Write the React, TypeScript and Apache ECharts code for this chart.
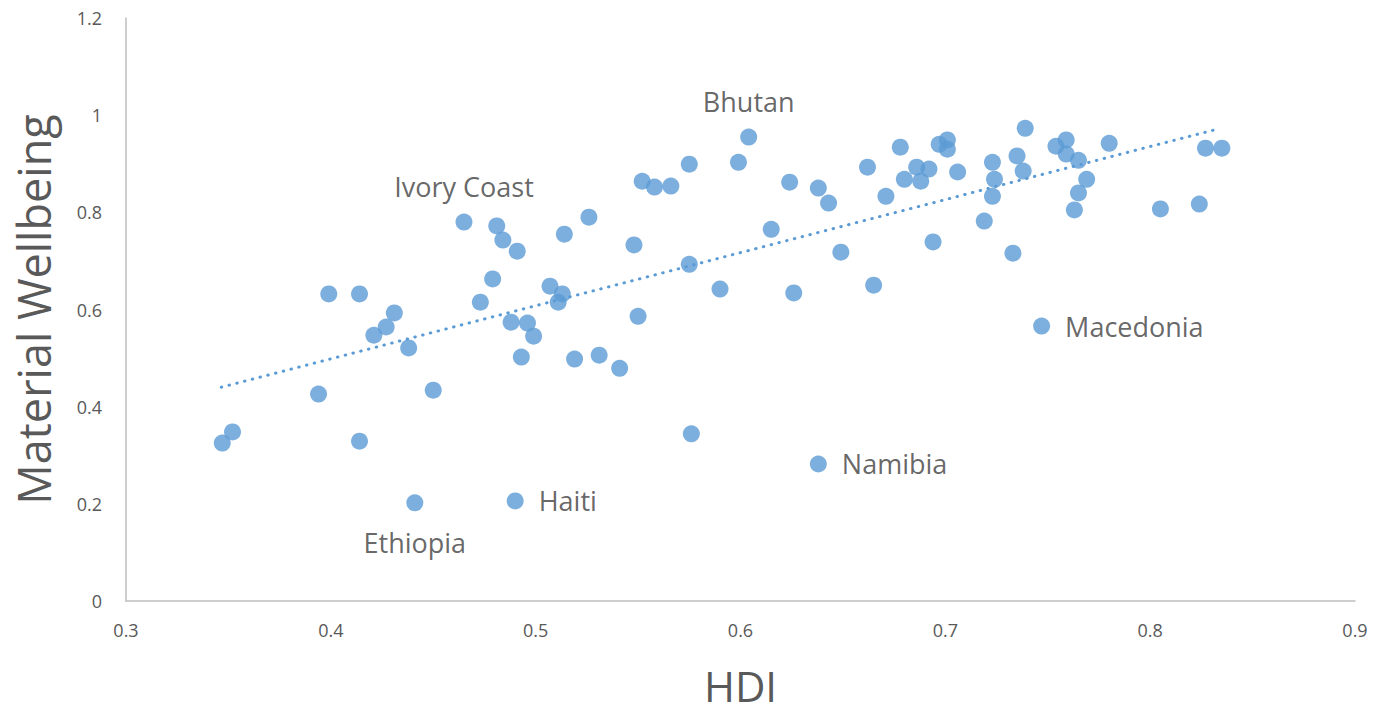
import React, { useEffect, useRef } from "react";
import * as echarts from "echarts";

const hdi = [
  0.347, 0.352, 0.394, 0.399, 0.414, 0.414, 0.421, 0.427, 0.431, 0.438,
  0.441, 0.45, 0.465, 0.473, 0.479, 0.481, 0.484, 0.488, 0.49, 0.491,
  0.493, 0.496, 0.499, 0.507, 0.511, 0.513, 0.514, 0.519, 0.526, 0.531,
  0.541, 0.548, 0.55, 0.552, 0.558, 0.566, 0.575, 0.575, 0.576, 0.59,
  0.599, 0.604, 0.615, 0.624, 0.626, 0.638, 0.638, 0.643, 0.649, 0.662,
  0.665, 0.671, 0.678, 0.68, 0.686, 0.688, 0.692, 0.694, 0.697, 0.701,
  0.701, 0.706, 0.719, 0.723, 0.723, 0.724, 0.733, 0.735, 0.738, 0.739,
  0.747, 0.754, 0.759, 0.759, 0.765, 0.763, 0.765, 0.769, 0.78, 0.805,
  0.824, 0.827, 0.835,
];

const wellbeing = [
  0.325, 0.348, 0.426, 0.632, 0.632, 0.329, 0.547, 0.564, 0.593, 0.521,
  0.202, 0.434, 0.78, 0.615, 0.663, 0.772, 0.743, 0.574, 0.206, 0.72,
  0.502, 0.572, 0.545, 0.648, 0.615, 0.632, 0.755, 0.498, 0.79, 0.506,
  0.479, 0.733, 0.586, 0.864, 0.852, 0.854, 0.693, 0.899, 0.344, 0.642,
  0.903, 0.955, 0.765, 0.862, 0.634, 0.85, 0.282, 0.819, 0.718, 0.893,
  0.65, 0.833, 0.934, 0.868, 0.893, 0.864, 0.889, 0.739, 0.94, 0.949,
  0.93, 0.883, 0.782, 0.903, 0.833, 0.868, 0.716, 0.916, 0.885, 0.973,
  0.566, 0.936, 0.949, 0.92, 0.907, 0.805, 0.84, 0.868, 0.942, 0.807,
  0.817, 0.932, 0.932,
];

const namedCountries = ["Ethiopia", "Ivory Coast", "Haiti", "Bhutan", "Namibia", "Macedonia"];
const namedIndex = [10, 12, 18, 41, 46, 70];

const trendX = [0.3465, 0.8325];
const trendY = [0.44, 0.971];

const xTicks = { min: 0.3, max: 0.9, interval: 0.1 };
const yTicks = { min: 0, max: 1.2, interval: 0.2 };

const labelPos: Record<string, string> = {
  Ethiopia: "bottom",
  "Ivory Coast": "top",
  Haiti: "right",
  Bhutan: "top",
  Namibia: "right",
  Macedonia: "right",
};
const labelDist: Record<string, number> = {
  Ethiopia: 16,
  "Ivory Coast": 12,
  Haiti: 15,
  Bhutan: 12,
  Namibia: 15,
  Macedonia: 15,
};

const FONT = "'Open Sans', 'Noto Sans', sans-serif";

export default function App() {
  const ref = useRef<HTMLDivElement>(null);
  useEffect(() => {
    if (!ref.current) return;
    const chart = echarts.init(ref.current, undefined, { renderer: "svg" });
    const points = hdi.map((x, i) => {
      const k = namedIndex.indexOf(i);
      const item: any = { value: [x, wellbeing[i]] };
      if (k >= 0) {
        const name = namedCountries[k];
        item.name = name;
        item.label = {
          show: true,
          formatter: name,
          position: labelPos[name],
          distance: labelDist[name],
          color: "#404040",
          fontSize: 27,
          lineHeight: 30,
          fontFamily: FONT,
        };
      }
      return item;
    });
    chart.setOption({
      animation: false,
      grid: { left: 126, right: 30, top: 18, bottom: 109, outerBoundsMode: "none", containLabel: false },
      xAxis: {
        type: "value",
        min: xTicks.min,
        max: xTicks.max,
        interval: xTicks.interval,
        name: "HDI",
        nameLocation: "middle",
        nameGap: 64,
        nameTextStyle: { fontSize: 42, lineHeight: 40, color: "#595959", fontFamily: FONT },
        axisLine: { show: true, lineStyle: { color: "#bfbfbf", width: 1.5 } },
        axisTick: { show: false },
        splitLine: { show: false },
        axisLabel: { color: "#595959", fontSize: 18, margin: 20, fontFamily: FONT },
      },
      yAxis: {
        type: "value",
        min: yTicks.min,
        max: yTicks.max,
        interval: yTicks.interval,
        name: "Material Wellbeing",
        nameLocation: "middle",
        nameRotate: 90,
        nameGap: 70,
        nameTextStyle: { fontSize: 45, lineHeight: 46, color: "#595959", fontFamily: FONT },
        axisLine: { show: true, lineStyle: { color: "#bfbfbf", width: 1.5 } },
        axisTick: { show: false },
        splitLine: { show: false },
        axisLabel: { color: "#595959", fontSize: 18, margin: 24, fontFamily: FONT },
      },
      series: [
        {
          type: "line",
          data: trendX.map((x, i) => [x, trendY[i]]),
          showSymbol: false,
          symbol: "none",
          lineStyle: { color: "#5b9bd5", width: 3, type: [0.5, 7.5], cap: "round" },
          silent: true,
          z: 1,
        },
        {
          type: "scatter",
          data: points,
          symbolSize: 17,
          itemStyle: { color: "#5b9bd5" },
          z: 2,
        },
      ],
    });
    return () => chart.dispose();
  }, []);
  return (
    <div
      ref={ref}
      style={{ position: "absolute", left: 0, top: 0, width: 1385, height: 710, background: "#fff" }}
    />
  );
}
